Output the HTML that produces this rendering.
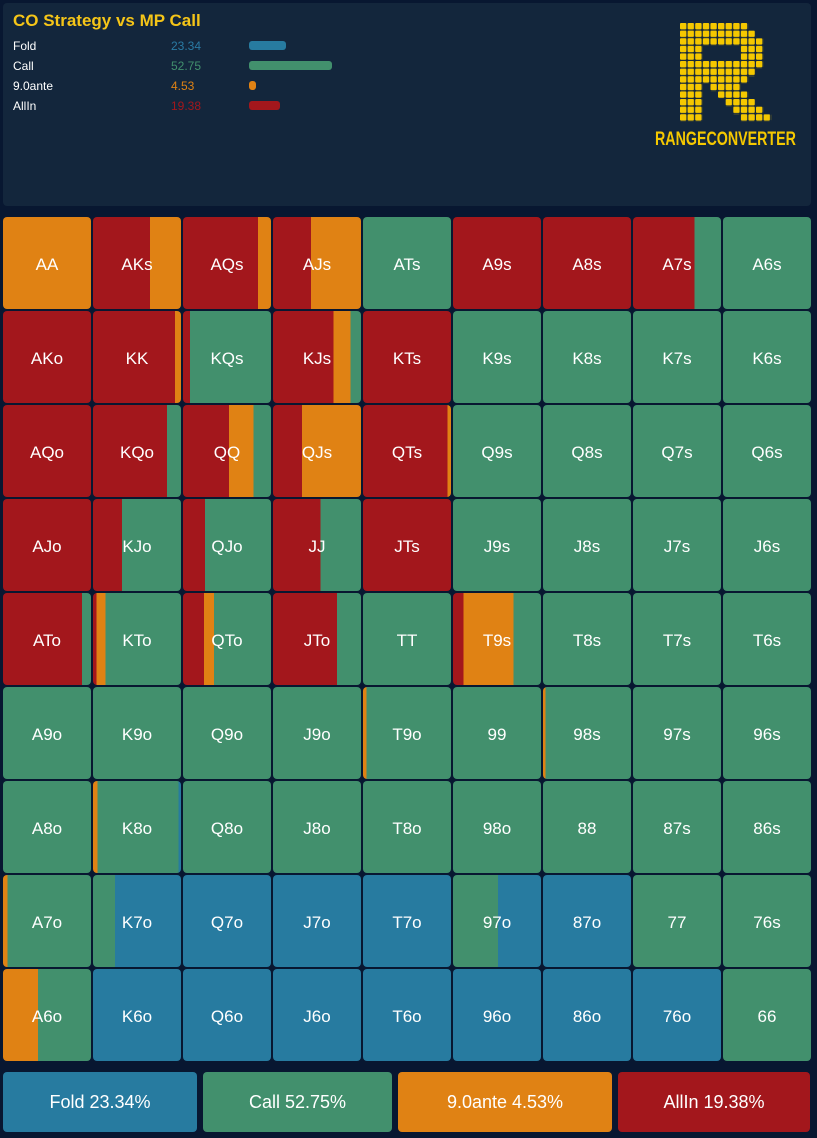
<!DOCTYPE html>
<html><head><meta charset="utf-8"><style>
body{margin:0;width:817px;height:1138px;background:#081731;font-family:"Liberation Sans",sans-serif;position:relative;overflow:hidden}
.hdr{position:absolute;left:3px;top:3px;width:808px;height:203px;background:#13263c;border-radius:4px}
.t{position:absolute;left:10px;top:8px;color:#f5c518;font-weight:bold;font-size:17px}
.r{position:absolute;left:10px;font-size:12px;color:#fff}
.v{position:absolute;left:168px;font-size:12px}
.b{position:absolute;left:246px;height:9px;border-radius:3px}
.grid{position:absolute;left:3px;top:217px;display:grid;grid-template-columns:repeat(9,88px);grid-template-rows:repeat(9,92px);gap:2px}
.grid div{border-radius:4px;color:#fff;font-size:17px;display:flex;align-items:center;justify-content:center;background:#42906d;padding-top:3px;box-sizing:border-box}
.R{background:#a3171c!important}.O{background:#e08214!important}.B{background:#277ba0!important}
.sum{position:absolute;top:1072px;height:60px;border-radius:4px;color:#fff;font-size:18px;display:flex;align-items:center;justify-content:center}
</style></head><body>
<div class="hdr">
<div class="t">CO Strategy vs MP Call</div>
<div class="r" style="top:36px">Fold</div><div class="v" style="top:36px;color:#2a7aa3">23.34</div><div class="b" style="top:38px;width:37px;background:#277ba0"></div>
<div class="r" style="top:56px">Call</div><div class="v" style="top:56px;color:#42906d">52.75</div><div class="b" style="top:58px;width:83px;background:#42906d"></div>
<div class="r" style="top:76px">9.0ante</div><div class="v" style="top:76px;color:#e08214">4.53</div><div class="b" style="top:78px;width:7px;background:#e08214"></div>
<div class="r" style="top:96px">AllIn</div><div class="v" style="top:96px;color:#a3171c">19.38</div><div class="b" style="top:98px;width:31px;background:#a3171c"></div>
</div>
<svg style="position:absolute;left:680px;top:23px" width="100" height="100">
<defs><pattern id="p" patternUnits="userSpaceOnUse" width="7.6" height="7.6"><rect x="0" y="0" width="6.4" height="6.4" rx="1" fill="#f5c800"/></pattern></defs>
<path fill="url(#p)" d="M0 0h68.4v7.6H0zM0 7.6h76v7.6H0zM0 15.2h83.6v7.6H0zM0 22.8h22.8v7.6H0zM60.8 22.8h22.8v7.6H60.8zM0 30.4h22.8v7.6H0zM60.8 30.4h22.8v7.6H60.8zM0 38h83.6v7.6H0zM0 45.6h76v7.6H0zM0 53.2h68.4v7.6H0zM0 60.8h22.8v7.6H0zM30.4 60.8h30.4v7.6H30.4zM0 68.4h22.8v7.6H0zM38 68.4h30.4v7.6H38zM0 76h22.8v7.6H0zM45.6 76h30.4v7.6H45.6zM0 83.6h22.8v7.6H0zM53.2 83.6h30.4v7.6H53.2zM0 91.2h22.8v7.6H0zM60.8 91.2h30.4v7.6H60.8z"/>
</svg>
<div style="position:absolute;left:655px;top:129px;color:#f5c800;font-weight:bold;font-size:19px;transform:scaleX(0.75);transform-origin:left;white-space:nowrap">RANGECONVERTER</div>
<div class="grid">
<div class="O">AA</div>
<div style="background:linear-gradient(90deg,#a3171c 0 65%,#e08214 0)">AKs</div>
<div style="background:linear-gradient(90deg,#a3171c 0 85%,#e08214 0)">AQs</div>
<div style="background:linear-gradient(90deg,#a3171c 0 43%,#e08214 0)">AJs</div>
<div>ATs</div><div class="R">A9s</div><div class="R">A8s</div>
<div style="background:linear-gradient(90deg,#a3171c 0 70%,#42906d 0)">A7s</div><div>A6s</div>

<div class="R">AKo</div>
<div style="background:linear-gradient(90deg,#a3171c 0 93%,#e08214 0)">KK</div>
<div style="background:linear-gradient(90deg,#a3171c 0 8%,#42906d 0)">KQs</div>
<div style="background:linear-gradient(90deg,#a3171c 0 69%,#e08214 0 88%,#42906d 0)">KJs</div>
<div class="R">KTs</div><div>K9s</div><div>K8s</div><div>K7s</div><div>K6s</div>

<div class="R">AQo</div>
<div style="background:linear-gradient(90deg,#a3171c 0 84%,#42906d 0)">KQo</div>
<div style="background:linear-gradient(90deg,#a3171c 0 52%,#e08214 0 80%,#42906d 0)">QQ</div>
<div style="background:linear-gradient(90deg,#a3171c 0 33%,#e08214 0)">QJs</div>
<div style="background:linear-gradient(90deg,#a3171c 0 96%,#e08214 0)">QTs</div>
<div>Q9s</div><div>Q8s</div><div>Q7s</div><div>Q6s</div>

<div class="R">AJo</div>
<div style="background:linear-gradient(90deg,#a3171c 0 33%,#42906d 0)">KJo</div>
<div style="background:linear-gradient(90deg,#a3171c 0 25%,#42906d 0)">QJo</div>
<div style="background:linear-gradient(90deg,#a3171c 0 54%,#42906d 0)">JJ</div>
<div class="R">JTs</div><div>J9s</div><div>J8s</div><div>J7s</div><div>J6s</div>

<div style="background:linear-gradient(90deg,#a3171c 0 90%,#42906d 0)">ATo</div>
<div style="background:linear-gradient(90deg,#a3171c 0 4%,#e08214 0 14%,#42906d 0)">KTo</div>
<div style="background:linear-gradient(90deg,#a3171c 0 24%,#e08214 0 35%,#42906d 0)">QTo</div>
<div style="background:linear-gradient(90deg,#a3171c 0 73%,#42906d 0)">JTo</div>
<div>TT</div>
<div style="background:linear-gradient(90deg,#a3171c 0 12%,#e08214 0 69%,#42906d 0)">T9s</div>
<div>T8s</div><div>T7s</div><div>T6s</div>

<div>A9o</div><div>K9o</div><div>Q9o</div><div>J9o</div>
<div style="background:linear-gradient(90deg,#e08214 0 4%,#42906d 0)">T9o</div>
<div>99</div>
<div style="background:linear-gradient(90deg,#e08214 0 3%,#42906d 0)">98s</div>
<div>97s</div><div>96s</div>

<div>A8o</div>
<div style="background:linear-gradient(90deg,#e08214 0 5%,#42906d 0 97%,#277ba0 0)">K8o</div>
<div>Q8o</div><div>J8o</div><div>T8o</div><div>98o</div><div>88</div><div>87s</div><div>86s</div>

<div style="background:linear-gradient(90deg,#e08214 0 5%,#42906d 0)">A7o</div>
<div style="background:linear-gradient(90deg,#42906d 0 25%,#277ba0 0)">K7o</div>
<div class="B">Q7o</div><div class="B">J7o</div><div class="B">T7o</div>
<div style="background:linear-gradient(90deg,#42906d 0 51%,#277ba0 0)">97o</div>
<div class="B">87o</div><div>77</div><div>76s</div>

<div style="background:linear-gradient(90deg,#e08214 0 40%,#42906d 0)">A6o</div>
<div class="B">K6o</div><div class="B">Q6o</div><div class="B">J6o</div><div class="B">T6o</div><div class="B">96o</div><div class="B">86o</div><div class="B">76o</div><div>66</div>
</div>
<div class="sum" style="left:3px;width:194px;background:#277ba0">Fold 23.34%</div>
<div class="sum" style="left:203px;width:189px;background:#42906d">Call 52.75%</div>
<div class="sum" style="left:398px;width:214px;background:#e08214">9.0ante 4.53%</div>
<div class="sum" style="left:618px;width:192px;background:#a3171c">AllIn 19.38%</div>
</body></html>
